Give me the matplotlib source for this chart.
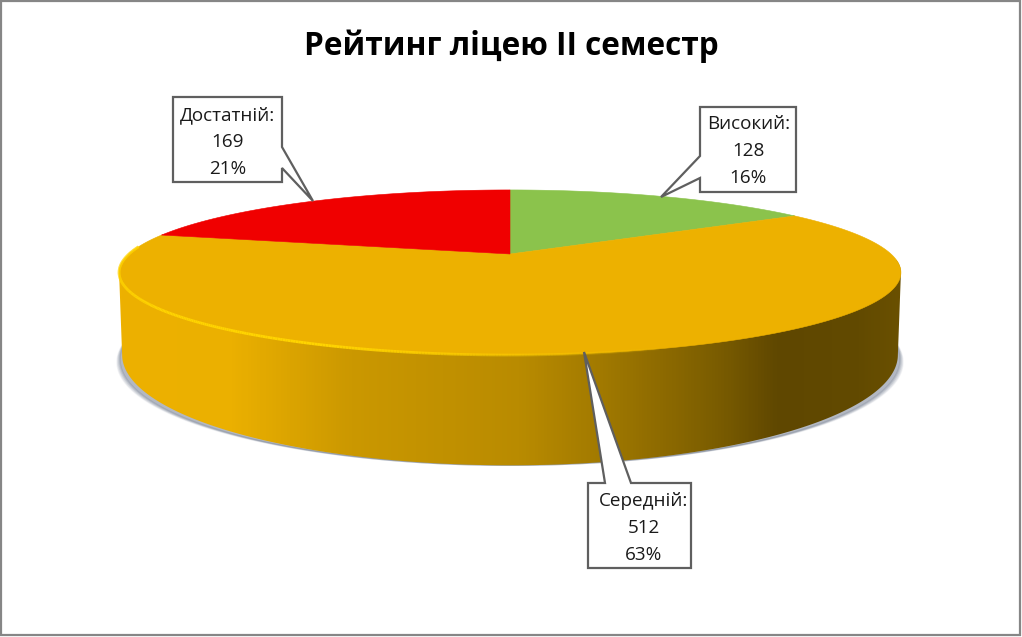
# -*- coding: utf-8 -*-
import numpy as np
import matplotlib
matplotlib.use("Agg")
import matplotlib.pyplot as plt
from matplotlib.collections import LineCollection
from matplotlib.colors import LinearSegmentedColormap, to_rgb
from matplotlib.patches import Polygon, Rectangle

plt.rcParams['font.family'] = ['Open Sans', 'Noto Sans', 'DejaVu Sans']

title = "Рейтинг ліцею ІІ семестр"
names = ["Високий", "Середній", "Достатній"]
values = [128, 512, 169]
colors = ["#8BC34C", "#EDB100", "#F00000"]

# label box (left, top, right, bottom), then pointer base a, tip, base b
boxes = [(700, 107, 796, 192), (588, 483, 691, 568), (173, 97, 282, 182)]
pointers = [[(700, 156), (661, 197), (700, 178)],
            [(605, 483), (584, 352), (631, 483)],
            [(282, 147), (313, 201), (282, 168)]]
text_y = [151, 528, 142]
text_x = [748.5, 644, 227.5]

# perspective of the disc, in pixels
CX = 510
K = 0.224
TOP = dict(a=381, b=78.4, y0=254)
LOW = dict(a=378, b=105, y0=330)


def project(theta, r=1.0, a=381, b=78.4, y0=254):
    # theta runs clockwise from 12 o'clock
    u = r * np.sin(theta)
    v = r * np.cos(theta)
    w = 1 + K * v
    return CX + a * u / w, y0 - b * v / w


fig = plt.figure(figsize=(10.22, 6.37), dpi=100)
ax = fig.add_axes([0, 0, 1, 1])

full = np.linspace(0, 2 * np.pi, 721)
top_x, top_y = project(full, **TOP)
low_x, low_y = project(full, **LOW)

# shadow under the disc, wider at the sides than at the front
for grow, drop, lw, alpha in [(5, 9, 1, 0.08), (4, 8, 1, 0.12), (3, 7, 1, 0.16), (2, 6, 1, 0.22)]:
    sx, sy = project(full, a=LOW["a"] + grow, b=LOW["b"] - drop * (1 - K), y0=LOW["y0"] + drop)
    ax.fill(sx, sy, facecolor="#5F6B80", edgecolor="#5F6B80", lw=lw, alpha=alpha, zorder=1)

# side wall: lower rim front + upper rim back, filled with a gradient
i_r, i_l = low_x.argmax(), low_x.argmin()
j_r, j_l = top_x.argmax(), top_x.argmin()
wall_x = np.r_[low_x[i_r:i_l + 1], top_x[j_l:], top_x[:j_r + 1]]
wall_y = np.r_[low_y[i_r:i_l + 1], top_y[j_l:], top_y[:j_r + 1]]
clip = Polygon(np.c_[wall_x, wall_y], closed=True, transform=ax.transData,
               facecolor="none", edgecolor="none")
ax.add_patch(clip)

stops = [(119, "#EDB100"), (230, "#EBB000"), (350, "#CB9800"), (520, "#B98B00"),
         (600, "#A27A00"), (720, "#7A5C00"), (780, "#5F4700"), (860, "#624A00"),
         (902, "#6A5000")]
cmap = LinearSegmentedColormap.from_list(
    "wall", [((x - 119) / (902 - 119), c) for x, c in stops])
im = ax.imshow(np.linspace(0, 1, 800)[None, :], cmap=cmap, aspect="auto",
               extent=(119, 902, 480, 260), zorder=2)
im.set_clip_path(clip)

# top of the pie
edges = np.r_[0, np.cumsum(values)] / sum(values) * 2 * np.pi
for start, stop, col in zip(edges[:-1], edges[1:], colors):
    theta = np.linspace(start, stop, 300)
    x, y = project(theta, **TOP)
    ax.fill(np.r_[CX, x], np.r_[TOP["y0"], y], facecolor=col, edgecolor=col,
            lw=0.4, zorder=3)

# bright bevel on the front rim, fading to the right
rim = np.linspace(np.pi * 1.53, np.pi * 0.9, 300)
rim_x, rim_y = project(rim, **TOP)
pts = np.c_[rim_x, rim_y].reshape(-1, 1, 2)
segs = np.concatenate([pts[:-1], pts[1:]], axis=1)
rgb = to_rgb("#FFD400")
fade = np.clip((680 - rim_x[:-1]) / 350, 0, 1)
ax.add_collection(LineCollection(segs, colors=[(*rgb, f) for f in fade],
                                 linewidths=2, zorder=4))

ax.text(511, 46, title, ha="center", va="center", fontsize=22.7,
        fontweight="bold", color="black", zorder=6)

# callouts
share = np.array(values) / sum(values) * 100
for i, name in enumerate(names):
    l, t, r, b = boxes[i]
    p = pointers[i]
    # put the pointer into the outline on the side it leaves from
    if p[0][0] == l:
        outline = [(l, t), (r, t), (r, b), (l, b), p[2], p[1], p[0]]
    elif p[0][0] == r:
        outline = [(l, t), (r, t), p[0], p[1], p[2], (r, b), (l, b)]
    else:
        outline = [(l, t), p[0], p[1], p[2], (r, t), (r, b), (l, b)]
    ax.add_patch(Polygon(outline, closed=True, facecolor="white",
                         edgecolor="#5F5F5F", lw=1.6, joinstyle="miter", zorder=5))
    label = f"{name}:\n{values[i]}\n{share[i]:.0f}%"
    ax.text(text_x[i], text_y[i], label, ha="center", va="center", fontsize=13.6,
            linespacing=1.65, color="#1A1A1A", zorder=6)

# chart frame
ax.add_patch(Rectangle((1, 1), 1019, 634, facecolor="none", edgecolor="#868686",
                       lw=1.6, zorder=7))

ax.set_xlim(0, 1022)
ax.set_ylim(637, 0)
ax.axis("off")
fig.savefig("out.png", dpi=100, facecolor="white")
